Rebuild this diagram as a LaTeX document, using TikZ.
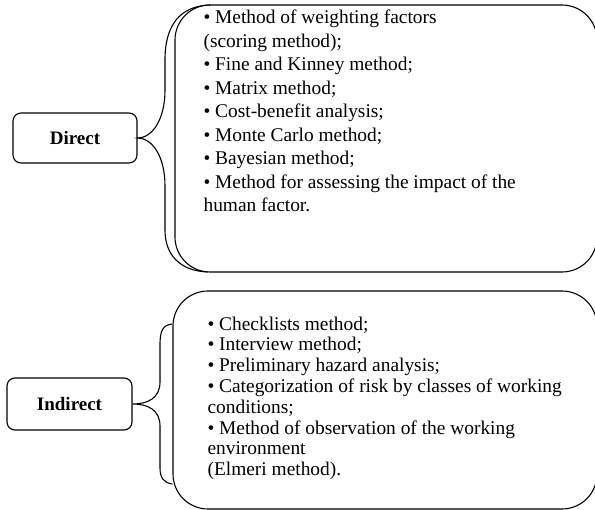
\documentclass[tikz,border=0pt]{standalone}
\usepackage{fontspec}
\setmainfont{Liberation Serif}
\begin{document}
\begin{tikzpicture}[x=1pt,y=-1pt,line width=1.1pt,
  catbox/.style={draw,rounded corners=8pt,inner sep=0pt,font=\fontsize{19}{20}\selectfont\bfseries},
  bigbox/.style={draw,inner sep=0pt,rounded corners=35pt},
  listtext/.style={anchor=north west,inner sep=0pt,align=left}]
\useasboundingbox (0,0) rectangle (595,510);
% top group
\node[bigbox,minimum width=422pt,minimum height=267pt] (dbox) at (386,138.5) {};
\node[catbox,minimum width=124pt,minimum height=50pt] (direct) at (75,138) {Direct};
\node[listtext,font=\fontsize{19.4}{23.5}\selectfont] (dlist) at (203,9.5) {%
• Method of weighting factors\\
(scoring method);\\
• Fine and Kinney method;\\
• Matrix method;\\
• Cost-benefit analysis;\\
• Monte Carlo method;\\
• Bayesian method;\\
• Method for assessing the impact of the\\
human factor.};
\draw (210,5) .. controls (180,6) and (165,25) .. (165,60) -- (165,90)
  .. controls (165,120) and (152,138) .. (direct.east)
  .. controls (152,138) and (165,156) .. (165,186) -- (165,230)
  .. controls (165,255) and (180,271) .. (208,272);
% bottom group
\node[bigbox,minimum width=424pt,minimum height=218pt] (ibox) at (385,400) {};
\node[catbox,minimum width=125pt,minimum height=52pt] (indirect) at (69.5,404) {Indirect};
\node[listtext,font=\fontsize{19.4}{20.8}\selectfont] (ilist) at (207,316) {%
• Checklists method;\\
• Interview method;\\
• Preliminary hazard analysis;\\
• Categorization of risk by classes of working\\
conditions;\\
• Method of observation of the working\\
environment\\
(Elmeri method).};
\draw (ibox.west |- 0,324) .. controls (163,325) and (160,330) .. (160,345) -- (160,382)
  .. controls (160,398) and (148,404) .. (indirect.east)
  .. controls (148,404) and (160,410) .. (160,426) -- (160,468)
  .. controls (160,478) and (164,483) .. (ibox.west |- 0,484);
\end{tikzpicture}
\end{document}
